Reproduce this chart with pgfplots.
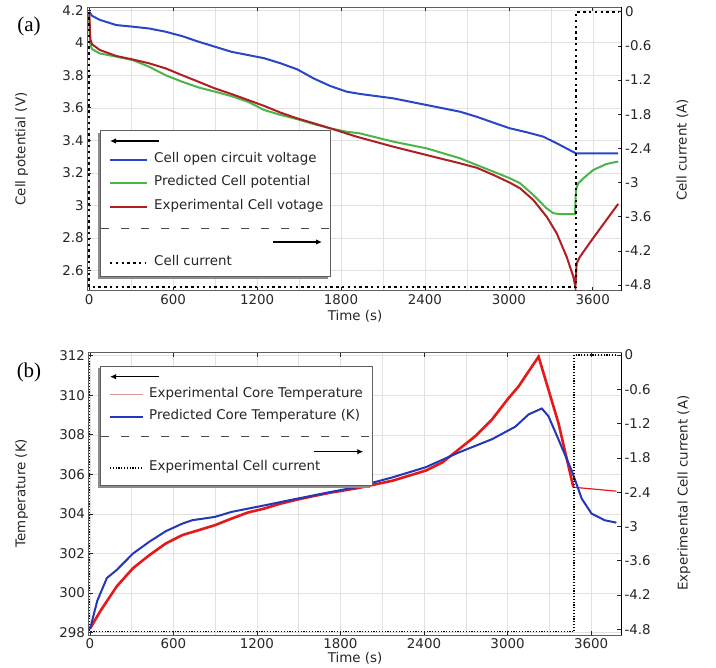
\documentclass[border=0pt]{standalone}
\usepackage{fontspec}
\setmainfont{DejaVu Sans}
\newfontfamily\seriffont{Liberation Serif}
\usepackage{pgfplots}
\pgfplotsset{compat=1.18}
\usetikzlibrary{arrows.meta}

\definecolor{ocvblue}{RGB}{40,70,200}
\definecolor{predgreen}{RGB}{75,180,75}
\definecolor{expred}{RGB}{175,30,35}
\definecolor{tred}{RGB}{230,25,25}
\definecolor{tblue}{RGB}{35,55,185}
\definecolor{lightred}{RGB}{215,150,150}
\definecolor{gridc}{RGB}{226,226,226}
\definecolor{framec}{RGB}{95,95,95}

\newcommand{\lfont}{\fontsize{13.4}{15.5}\selectfont}

\pgfplotsset{
  panel/.style={scale only axis, anchor=south west,
    tick align=inside, major tick length=4pt, minor tick length=0pt,
    tick style={black!85, line width=0.6pt},
    ticklabel style={font=\lfont, text=black!85},
    /pgf/number format/assume math mode=true,
    /pgf/number format/1000 sep={}},
  leftax/.style={panel, axis line style={framec, line width=0.9pt},
    xtick={0,600,1200,1800,2400,3000,3600},
    minor xtick={300,900,1500,2100,2700,3300},
    xmajorgrids, xminorgrids, ymajorgrids,
    major grid style={gridc, line width=0.5pt},
    minor grid style={gridc, line width=0.5pt},
    ytick pos=left, xtick pos=both, xticklabel pos=lower},
  rightax/.style={panel, axis x line=none, axis y line*=right,
    y axis line style={black, line width=0.9pt},
    ytick={0,-0.6,-1.2,-1.8,-2.4,-3,-3.6,-4.2,-4.8}},
}

\begin{document}
\begin{tikzpicture}
\path[use as bounding box] (0pt,0pt) rectangle (716pt,-668pt);

% ---------------- panel (a) ----------------
\begin{axis}[leftax, at={(87.3pt,-290.7pt)}, width=534.4pt, height=283.4pt,
  xmin=-14, xmax=3807, ymin=2.477, ymax=4.217,
  ytick={2.6,2.8,3,3.2,3.4,3.6,3.8,4,4.2}]
\addplot[ocvblue, line width=2pt] coordinates {
(0,4.19) (20,4.165) (75,4.14) (193,4.108) (310,4.098) (428,4.087) (546,4.067)
(664,4.04) (781,4.006) (898,3.975) (1016,3.944) (1134,3.924) (1252,3.904)
(1369,3.873) (1487,3.836) (1605,3.78) (1723,3.734) (1840,3.699) (1936,3.685)
(2174,3.658) (2412,3.617) (2651,3.576) (2770,3.545) (2889,3.509) (3008,3.474)
(3127,3.45) (3246,3.423) (3365,3.372) (3480,3.32) (3782,3.32)};
\addplot[predgreen, line width=2pt] coordinates {
(0,4.17) (5,4.0) (20,3.96) (75,3.934) (193,3.914) (310,3.893) (428,3.852)
(546,3.80) (664,3.76) (781,3.725) (898,3.699) (1016,3.672) (1134,3.637)
(1252,3.586) (1369,3.556) (1487,3.53) (1605,3.50) (1723,3.474) (1840,3.453)
(1936,3.443) (2174,3.392) (2412,3.351) (2651,3.29) (2770,3.249) (2889,3.208)
(3008,3.167) (3080,3.137) (3175,3.065) (3270,2.983) (3318,2.953) (3365,2.947)
(3473,2.947) (3480,3.10) (3497,3.137) (3533,3.167) (3603,3.218) (3698,3.255)
(3782,3.27)};
\addplot[expred, line width=2pt] coordinates {
(0,4.18) (8,4.02) (20,3.99) (75,3.955) (193,3.918) (310,3.897) (428,3.873)
(546,3.842) (664,3.80) (781,3.76) (898,3.719) (1016,3.685) (1134,3.648)
(1252,3.611) (1369,3.57) (1487,3.535) (1605,3.505) (1723,3.474) (1910,3.423)
(2174,3.361) (2412,3.31) (2651,3.259) (2770,3.232) (2889,3.188) (3008,3.14)
(3080,3.106) (3175,3.034) (3270,2.932) (3342,2.83) (3413,2.686) (3461,2.564)
(3476,2.50) (3485,2.646) (3509,2.686) (3603,2.80) (3782,3.01)};
\end{axis}

\begin{axis}[rightax, at={(87.3pt,-290.7pt)}, width=534.4pt, height=283.4pt,
  xmin=-14, xmax=3807, ymin=-4.9, ymax=0.077]
\addplot[black, line width=2.2pt, dash pattern=on 2.4pt off 3.4pt] coordinates {
(0,0) (0,-4.83) (3482,-4.83) (3482,0) (3782,0)};
\end{axis}

% ---------------- panel (b) ----------------
\begin{axis}[leftax, at={(88.5pt,-635pt)}, width=532.5pt, height=282.3pt,
  xmin=-10, xmax=3815, ymin=297.88, ymax=312.15,
  ytick={298,300,302,304,306,308,310,312}]
\addplot[tred, line width=2.6pt] coordinates {
(0,298.2) (5,298.25) (75,299.09) (193,300.34) (310,301.26) (428,301.92)
(546,302.51) (664,302.93) (781,303.18) (898,303.43) (1016,303.76) (1134,304.07)
(1252,304.27) (1369,304.52) (1487,304.72) (1605,304.90) (1723,305.07)
(1920,305.3) (2174,305.68) (2412,306.19) (2531,306.6) (2651,307.27)
(2770,307.94) (2889,308.78) (3008,309.86) (3080,310.45) (3151,311.2)
(3223,311.95) (3365,308.61) (3473,305.35)};
\addplot[tred, line width=1.2pt] coordinates {(3473,305.35) (3782,305.15)};
\addplot[tblue, line width=2pt] coordinates {
(0,298.2) (10,298.42) (52,299.59) (122,300.76) (193,301.17) (310,302.0)
(428,302.6) (546,303.13) (664,303.51) (734,303.68) (898,303.85) (1016,304.1)
(1252,304.43) (1487,304.77) (1723,305.1) (1910,305.35) (2174,305.85)
(2412,306.36) (2651,307.11) (2889,307.78) (3056,308.41) (3151,309.03)
(3246,309.33) (3294,308.94) (3365,307.78) (3461,306.19) (3533,304.77)
(3603,304.02) (3698,303.68) (3782,303.56)};
\end{axis}

\begin{axis}[rightax, at={(88.5pt,-635pt)}, width=532.5pt, height=282.3pt,
  xmin=-10, xmax=3815, ymin=-4.9, ymax=0.04]
\addplot[black, line width=1.2pt, dash pattern=on 1.2pt off 1.6pt] coordinates {
(0,0) (0,-4.84) (3478,-4.84) (3478,0) (3782,0)};
\end{axis}

% ---------------- labels ----------------
\node[font=\seriffont\fontsize{21}{24}\selectfont] at (29pt,-26pt) {(a)};
\node[font=\seriffont\fontsize{21}{24}\selectfont] at (29pt,-372pt) {(b)};
\node[rotate=90, font=\lfont, text=black!85] at (21.7pt,-149pt) {Cell potential (V)};
\node[rotate=90, font=\lfont, text=black!85] at (682.5pt,-150pt) {Cell current (A)};
\node[rotate=90, font=\lfont, text=black!85] at (21.7pt,-493pt) {Temperature (K)};
\node[rotate=90, font=\lfont, text=black!85] at (684pt,-493pt) {Experimental Cell current (A)};
\node[font=\lfont, text=black!85] at (355pt,-316pt) {Time (s)};
\node[font=\lfont, text=black!85] at (355pt,-658pt) {Time (s)};

% ---------------- legend (a) ----------------
\fill[black!45] (98pt,-132.7pt) rectangle (328pt,-279pt);
\filldraw[fill=white, draw=framec, line width=0.8pt] (100.3pt,-130.7pt) rectangle (330pt,-276.7pt);
\draw[line width=1.2pt, {Latex[length=6pt,width=5.5pt]}-] (110pt,-141pt) -- (158.7pt,-141pt);
\draw[ocvblue, line width=2pt] (110pt,-160pt) -- (147pt,-160pt);
\node[anchor=mid west, font=\lfont, text=black!85, inner sep=0pt] at (154pt,-160pt) {Cell open circuit voltage};
\draw[predgreen, line width=2pt] (110pt,-183pt) -- (147pt,-183pt);
\node[anchor=mid west, font=\lfont, text=black!85, inner sep=0pt] at (154pt,-183pt) {Predicted Cell potential};
\draw[expred, line width=2pt] (110pt,-207pt) -- (147pt,-207pt);
\node[anchor=mid west, font=\lfont, text=black!85, inner sep=0pt] at (154pt,-207pt) {Experimental Cell votage};
\draw[black!70, line width=0.7pt, dash pattern=on 8pt off 12pt] (101pt,-228pt) -- (330pt,-228pt);
\draw[line width=1.2pt, -{Latex[length=6pt,width=5.5pt]}] (273pt,-242pt) -- (322pt,-242pt);
\draw[black, line width=2.2pt, dash pattern=on 2.4pt off 3.4pt] (110pt,-263pt) -- (145pt,-263pt);
\node[anchor=mid west, font=\lfont, text=black!85, inner sep=0pt] at (154pt,-263pt) {Cell current};

% ---------------- legend (b) ----------------
\fill[black!45] (98pt,-368pt) rectangle (370pt,-488pt);
\filldraw[fill=white, draw=framec, line width=0.8pt] (100.3pt,-366pt) rectangle (372.3pt,-485.5pt);
\draw[line width=1.2pt, {Latex[length=6pt,width=5.5pt]}-] (110pt,-376.7pt) -- (159pt,-376.7pt);
\draw[lightred, line width=1pt] (110pt,-395pt) -- (143pt,-395pt);
\node[anchor=mid west, font=\lfont, text=black!85, inner sep=0pt] at (149pt,-395pt) {Experimental Core Temperature};
\draw[tblue, line width=2pt] (110pt,-416.7pt) -- (143pt,-416.7pt);
\node[anchor=mid west, font=\lfont, text=black!85, inner sep=0pt] at (149pt,-416.7pt) {Predicted Core Temperature (K)};
\draw[black!70, line width=0.7pt, dash pattern=on 8pt off 12pt] (101pt,-436.7pt) -- (372pt,-436.7pt);
\draw[line width=1.2pt, -{Latex[length=6pt,width=5.5pt]}] (314pt,-451.7pt) -- (363.3pt,-451.7pt);
\draw[black, line width=1.2pt, dash pattern=on 1.2pt off 1.6pt] (110pt,-468pt) -- (143pt,-468pt);
\node[anchor=mid west, font=\lfont, text=black!85, inner sep=0pt] at (149pt,-468pt) {Experimental Cell current};

\end{tikzpicture}
\end{document}
